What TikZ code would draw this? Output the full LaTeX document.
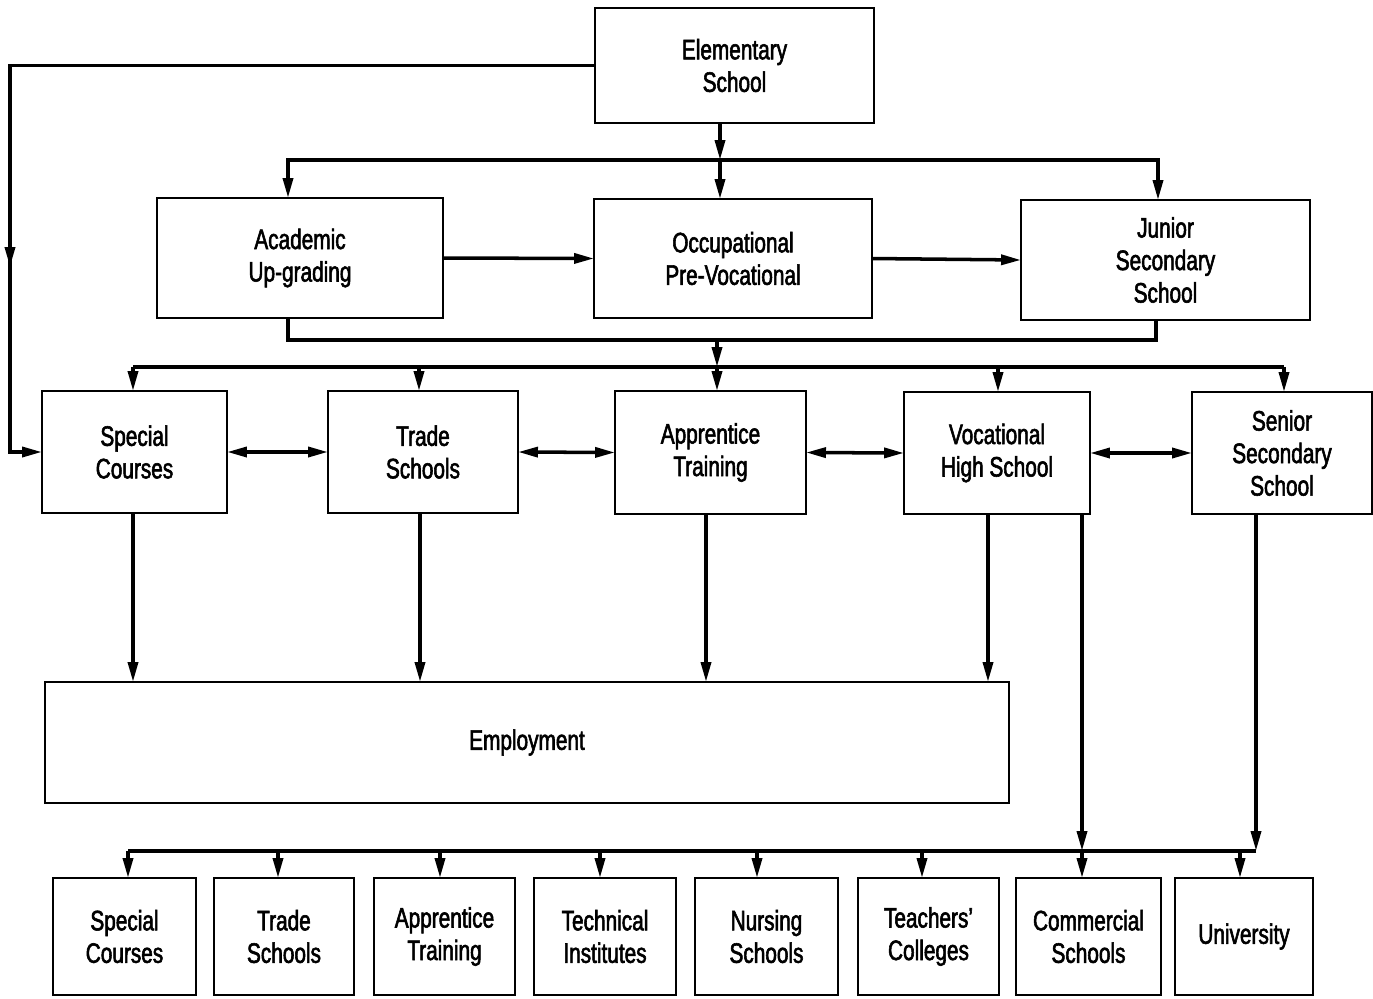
\documentclass[tikz,border=0pt]{standalone}
\usepackage{fontspec}
\setmainfont[FakeStretch=0.74,FakeBold=2]{Liberation Sans}
\usetikzlibrary{arrows.meta}
\begin{document}
\begin{tikzpicture}[x=0.02cm,y=-0.02cm,
  box/.style={draw,line width=1.4pt,inner sep=0pt,outer sep=0pt,align=center,
    font=\fontsize{16}{18.5}\selectfont},
  conn/.style={line width=2pt},
  Tri/.tip={Triangle[length=4mm,width=2mm]}]
\fill[white] (0,0) rectangle (1373,998);
\useasboundingbox (0,0) rectangle (1373,998);
% top
\node[box,minimum width=5.58cm,minimum height=2.3cm] (elem) at (734.5,65.5) {Elementary\\School};
\node[box,minimum width=5.72cm,minimum height=2.4cm] (acad) at (300,258) {Academic\\Up-grading};
\node[box,minimum width=5.56cm,minimum height=2.38cm] (occ) at (733,258.5) {Occupational\\Pre-Vocational};
\node[box,minimum width=5.78cm,minimum height=2.4cm] (jun) at (1165.5,260) {Junior\\Secondary\\School};
% middle
\node[box,minimum width=3.7cm,minimum height=2.44cm] (sc1) at (134.5,452) {Special\\Courses};
\node[box,minimum width=3.8cm,minimum height=2.44cm] (ts1) at (423,452) {Trade\\Schools};
\node[box,minimum width=3.82cm,minimum height=2.46cm] (at1) at (710.5,452.5) {Apprentice\\Training};
\node[box,minimum width=3.72cm,minimum height=2.44cm] (vhs) at (997,453) {Vocational\\High School};
\node[box,minimum width=3.6cm,minimum height=2.44cm] (sss) at (1282,453) {Senior\\Secondary\\School};
% employment
\node[box,minimum width=19.28cm,minimum height=2.42cm] (emp) at (527,742.5) {Employment};
% bottom
\node[box,minimum width=2.86cm,minimum height=2.34cm] (b1) at (124.5,936.5) {Special\\Courses};
\node[box,minimum width=2.8cm,minimum height=2.34cm] (b2) at (284,936.5) {Trade\\Schools};
\node[box,minimum width=2.82cm,minimum height=2.34cm] (b3) at (444.5,936.5) {Apprentice\\Training};
\node[box,minimum width=2.84cm,minimum height=2.34cm] (b4) at (605,936.5) {Technical\\Institutes};
\node[box,minimum width=2.86cm,minimum height=2.34cm] (b5) at (766.5,936.5) {Nursing\\Schools};
\node[box,minimum width=2.82cm,minimum height=2.34cm] (b6) at (928.5,936.5) {Teachers'\\Colleges};
\node[box,minimum width=2.9cm,minimum height=2.34cm] (b7) at (1088.5,936.5) {Commercial\\Schools};
\node[box,minimum width=2.76cm,minimum height=2.34cm] (b8) at (1244,936.5) {University};
% coordinates
\coordinate (L1) at (10,65.5);
\coordinate (Lm) at (10,267);
\coordinate (L2) at (10,452);
\coordinate (t1) at (720,160);
\coordinate (tl) at (288,160);
\coordinate (tr) at (1158,160);
\coordinate (ub1) at (288,340);
\coordinate (ub2) at (1156,340);
\coordinate (uc) at (717,340);
\coordinate (mb) at (717,367);
\coordinate (m1) at (133,367);
\coordinate (m2) at (419,367);
\coordinate (m4) at (998,367);
\coordinate (m5) at (1284,367);
\coordinate (xe1) at (133,0);
\coordinate (xe2) at (420,0);
\coordinate (xe3) at (706,0);
\coordinate (xe4) at (988,0);
\coordinate (cb) at (1082,851);
\coordinate (sb) at (1256,851);
\coordinate (bx1) at (128,851);
\coordinate (bx2) at (278,851);
\coordinate (bx3) at (440,851);
\coordinate (bx4) at (600,851);
\coordinate (bx5) at (757,851);
\coordinate (bx6) at (922,851);
\coordinate (bx8) at (1240,851);
% left loop
\draw[conn,-Tri] (elem.west) -- (L1) -- (L2) -- (sc1.west);
\draw[conn,-Tri] (L1) -- (Lm);
% elementary to top bus
\draw[conn,-Tri] (elem.south -| t1) -- (t1);
\draw[conn,-Tri] (t1) -- (occ.north -| t1);
\draw[conn,-Tri] (tr) -- (tl) -- (acad.north -| tl);
\draw[conn,-Tri] (tl) -- (tr) -- (jun.north -| tr);
% horizontal arrows
\draw[conn,-Tri] (acad.east) -- (occ.west);
\draw[conn,-Tri] (occ.east) -- (jun.west);
% lower bus
\draw[conn] (acad.south -| ub1) -- (ub1) -- (ub2) -- (jun.south -| ub2);
\draw[conn,-Tri] (uc) -- (mb);
\draw[conn] (m1) -- (m5);
\draw[conn,-Tri] (m1) -- (sc1.north -| m1);
\draw[conn,-Tri] (m2) -- (ts1.north -| m2);
\draw[conn,-Tri] (mb) -- (at1.north -| mb);
\draw[conn,-Tri] (m4) -- (vhs.north -| m4);
\draw[conn,-Tri] (m5) -- (sss.north -| m5);
% double arrows
\draw[conn,Tri-Tri] (sc1.east) -- (ts1.west);
\draw[conn,Tri-Tri] (ts1.east) -- (at1.west);
\draw[conn,Tri-Tri] (at1.east) -- (vhs.west);
\draw[conn,Tri-Tri] (vhs.east) -- (sss.west);
% to employment
\draw[conn,-Tri] (sc1.south -| xe1) -- (emp.north -| xe1);
\draw[conn,-Tri] (ts1.south -| xe2) -- (emp.north -| xe2);
\draw[conn,-Tri] (at1.south -| xe3) -- (emp.north -| xe3);
\draw[conn,-Tri] (vhs.south -| xe4) -- (emp.north -| xe4);
% to bottom bus
\draw[conn,-Tri] (vhs.south -| cb) -- (cb);
\draw[conn,-Tri] (cb) -- (b7.north -| cb);
\draw[conn,-Tri] (sss.south -| sb) -- (sb);
\draw[conn] (sb) -- (bx1);
\draw[conn,-Tri] (bx1) -- (b1.north -| bx1);
\draw[conn,-Tri] (bx2) -- (b2.north -| bx2);
\draw[conn,-Tri] (bx3) -- (b3.north -| bx3);
\draw[conn,-Tri] (bx4) -- (b4.north -| bx4);
\draw[conn,-Tri] (bx5) -- (b5.north -| bx5);
\draw[conn,-Tri] (bx6) -- (b6.north -| bx6);
\draw[conn,-Tri] (bx8) -- (b8.north -| bx8);
\end{tikzpicture}
\end{document}
